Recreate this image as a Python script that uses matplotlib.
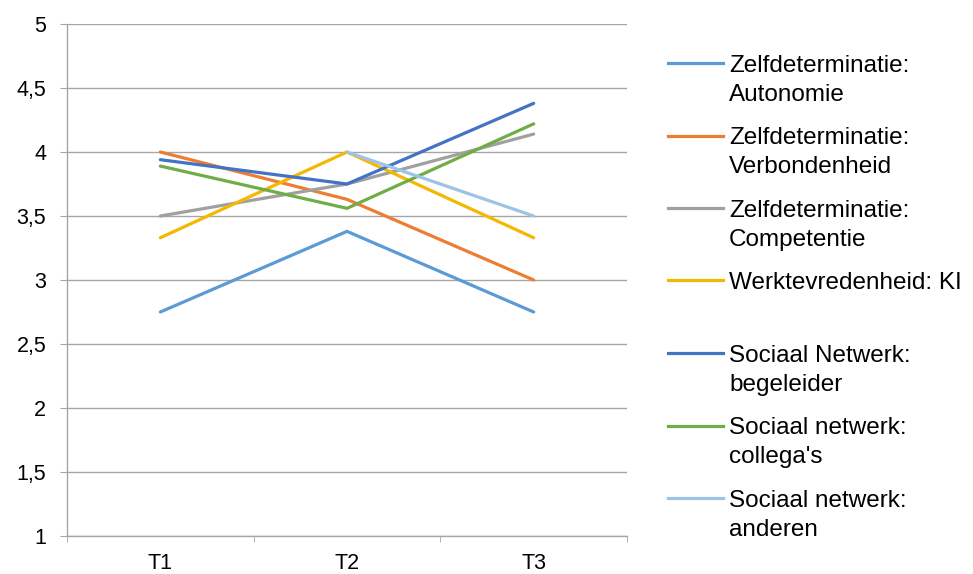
import numpy as np
import matplotlib
matplotlib.use("Agg")
import matplotlib.pyplot as plt
from matplotlib.lines import Line2D
from matplotlib.ticker import FuncFormatter

plt.rcParams['font.family'] = ['Liberation Sans', 'DejaVu Sans']

# data
times = ["T1", "T2", "T3"]
autonomie = [2.75, 3.38, 2.75]
verbondenheid = [4.0, 3.63, 3.0]
competentie = [3.5, 3.75, 4.14]
werktevredenheid = [3.33, 4.0, 3.33]
begeleider = [3.94, 3.75, 4.38]
collegas = [3.89, 3.56, 4.22]
anderen = [np.nan, 4.0, 3.5]

labels = [
    ["Zelfdeterminatie:", "Autonomie"],
    ["Zelfdeterminatie:", "Verbondenheid"],
    ["Zelfdeterminatie:", "Competentie"],
    ["Werktevredenheid: KI"],
    ["Sociaal Netwerk:", "begeleider"],
    ["Sociaal netwerk:", "collega's"],
    ["Sociaal netwerk:", "anderen"],
]
series = [autonomie, verbondenheid, competentie, werktevredenheid,
          begeleider, collegas, anderen]
colors = ["#5B9BD5", "#ED7D31", "#A0A0A0", "#F5B800",
          "#4472C4", "#70AD47", "#9DC3E6"]

W, H = 973, 574
fig = plt.figure(figsize=(W / 100, H / 100), dpi=100)
ax = fig.add_axes([67 / W, 1 - 536 / H, (627 - 67) / W, (536 - 24) / H])

x = np.arange(len(times))
for vals, col in zip(series, colors):
    ax.plot(x, vals, color=col, lw=2.3, solid_capstyle='round')

ax.set_xlim(-0.5, 2.5)
ax.set_ylim(1, 5)
ax.set_yticks(np.arange(1, 5.01, 0.5))
ax.yaxis.set_major_formatter(FuncFormatter(lambda v, p: ("%g" % v).replace(".", ",")))
ax.set_xticks(x)
ax.set_xticklabels(times)
ax.set_xticks([-0.5, 0.5, 1.5, 2.5], minor=True)

ax.grid(axis='y', color='#A6A6A6', lw=1)
ax.set_axisbelow(True)
for s in ['top', 'right']:
    ax.spines[s].set_visible(False)
for s in ['left', 'bottom']:
    ax.spines[s].set_color('#A6A6A6')
    ax.spines[s].set_linewidth(1)

ax.tick_params(axis='y', length=5, color='#A6A6A6', labelsize=15.5, pad=10)
ax.tick_params(axis='x', which='major', length=0, labelsize=15.5, pad=12)
ax.tick_params(axis='x', which='minor', length=4, color='#A6A6A6')

# legend drawn by hand so the handle sits on the first text line
y0 = 63
step = 72.5
for i, (lab, col) in enumerate(zip(labels, colors)):
    yy = y0 + i * step
    fig.add_artist(Line2D([668 / W, 723 / W], [1 - yy / H, 1 - yy / H],
                          color=col, lw=2.3, transform=fig.transFigure))
    for j, line in enumerate(lab):
        fig.text(729 / W, 1 - (yy + 8.8 + j * 29) / H, line,
                 fontsize=17.5, va='baseline', ha='left')

fig.savefig("out.png", dpi=100)
